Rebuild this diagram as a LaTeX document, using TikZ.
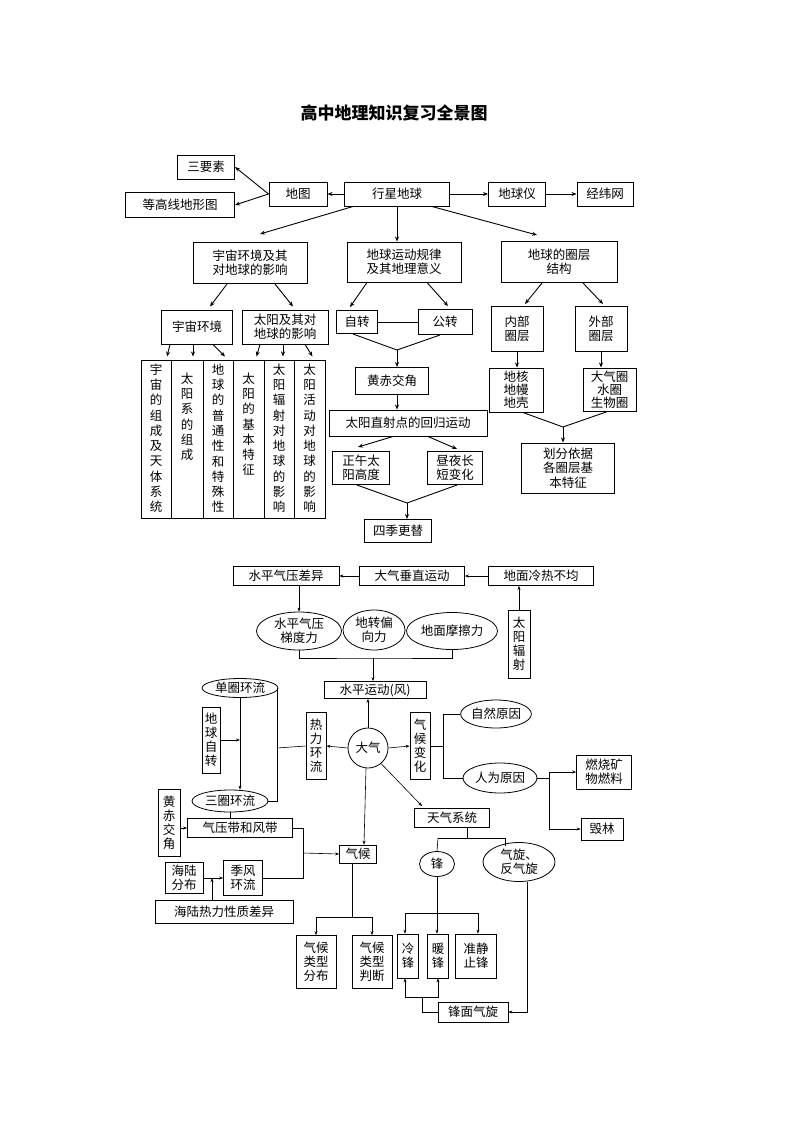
\documentclass[tikz,border=0pt]{standalone}
\usepackage{fontspec}
\newfontfamily\cjk{Noto Sans CJK SC}
\usetikzlibrary{shapes.geometric,calc,arrows.meta}
\begin{document}
\begin{tikzpicture}[x=1pt,y=-1pt,
  every node/.style={font=\cjk\fontsize{12.5}{14}\selectfont,align=center,inner sep=0pt},
  bx/.style={draw,line width=1pt},
  tb/.style={draw,line width=0.7pt},
  el/.style={draw,ellipse,line width=0.8pt},
  arr/.style={-{Stealth[length=5pt,width=4pt]},line width=0.9pt},
  tarr/.style={-{Stealth[length=4pt,width=3pt]},line width=0.6pt},
  ln/.style={line width=0.9pt},
  tln/.style={line width=0.6pt}]
\useasboundingbox (0,0) rectangle (800,1132);
\node[font=\cjk\bfseries\fontsize{17}{20}\selectfont] (title) at (394,113) {高中地理知识复习全景图};
% top
\node[bx,minimum width=57,minimum height=24] (sanyao) at (206,167) {三要素};
\node[bx,minimum width=109,minimum height=25] (dengg) at (180,205) {等高线地形图};
\node[bx,minimum width=58,minimum height=24] (ditu) at (298,194) {地图};
\node[bx,minimum width=105,minimum height=24] (xxdq) at (397,194) {行星地球};
\node[bx,minimum width=57,minimum height=24] (dqy) at (517,194) {地球仪};
\node[bx,minimum width=56,minimum height=24] (jwc) at (605,194) {经纬网};
\node[bx,minimum width=114,minimum height=41] (yz) at (250,263) {宇宙环境及其\\对地球的影响};
\node[bx,minimum width=114,minimum height=40] (ydg) at (404,262) {地球运动规律\\及其地理意义};
\node[bx,minimum width=116,minimum height=41] (qc) at (559,262) {地球的圈层\\结构};
\node[bx,minimum width=71,minimum height=34] (yzhj) at (197,327) {宇宙环境};
\node[bx,minimum width=86,minimum height=34] (tyj) at (285,327) {太阳及其对\\地球的影响};
\foreach \n/\cx/\w in {b1/156/30,b2/187/32,b3/218/30,b4/248.5/31,b5/279/30,b6/309.5/31}
  \node[bx,minimum width=\w,minimum height=158] (\n) at (\cx,439) {};
\begin{scope}[every node/.style={font=\cjk\fontsize{12.5}{15.3}\selectfont,align=center,inner sep=0pt,anchor=north}]
\node (t1) at ($(b1.north)+(0,4)$) {宇\\宙\\的\\组\\成\\及\\天\\体\\系\\统};
\node (t2) at ($(b2.north)+(0,13)$) {太\\阳\\系\\的\\组\\成};
\node (t3) at ($(b3.north)+(0,4)$) {地\\球\\的\\普\\通\\性\\和\\特\\殊\\性};
\node (t4) at ($(b4.north)+(0,13)$) {太\\阳\\的\\基\\本\\特\\征};
\node (t5) at ($(b5.north)+(0,4)$) {太\\阳\\辐\\射\\对\\地\\球\\的\\影\\响};
\node (t6) at ($(b6.north)+(0,4)$) {太\\阳\\活\\动\\对\\地\\球\\的\\影\\响};
\end{scope}
\node[bx,minimum width=41,minimum height=23] (zz) at (357,322) {自转};
\node[bx,minimum width=54,minimum height=25] (gz) at (445,322) {公转};
\node[bx,minimum width=73,minimum height=27] (hcjj) at (392,381) {黄赤交角};
\node[bx,minimum width=158,minimum height=26] (tyzs) at (408,423) {太阳直射点的回归运动};
\node[bx,minimum width=57,minimum height=33] (zw) at (361,468) {正午太\\阳高度};
\node[bx,minimum width=55,minimum height=33] (zy) at (455,468) {昼夜长\\短变化};
\node[bx,minimum width=67,minimum height=23] (sj) at (398,531) {四季更替};
\node[bx,minimum width=52,minimum height=45] (nb) at (517,329) {内部\\圈层};
\node[bx,minimum width=52,minimum height=45] (wb) at (601,329) {外部\\圈层};
\node[bx,minimum width=54,minimum height=44,font=\cjk\fontsize{12.5}{13}\selectfont] (dh) at (516,390) {地核\\地幔\\地壳};
\node[bx,minimum width=53,minimum height=43,font=\cjk\fontsize{12.5}{13}\selectfont] (dq) at (609.5,389.5) {大气圈\\水圈\\生物圈};
\node[bx,minimum width=93,minimum height=50,font=\cjk\fontsize{12.5}{14.5}\selectfont] (hf) at (568,468) {划分依据\\各圈层基\\本特征};
% top connectors
\draw[arr] (ditu.west) -- (sanyao.east);
\draw[arr] (ditu.west) -- (dengg.east);
\draw[arr] (xxdq.west) -- (ditu.east);
\draw[arr] (xxdq.east) -- (dqy.west);
\draw[arr] (dqy.east) -- (jwc.west);
\draw[arr] ($(xxdq.south)+(-44,0)$) -- ($(yz.north)+(10,-8)$);
\draw[arr] (xxdq.south) -- (xxdq.south |- ydg.north);
\draw[arr] ($(xxdq.south)+(35,0)$) -- ($(qc.north)+(-22,-6)$);
\draw[arr] ($(yz.south)+(-23,0)$) -- ($(yzhj.north)+(13,-3)$);
\draw[arr] ($(yz.south)+(25,0)$) -- ($(tyj.north)+(8,-3)$);
\draw[arr] ($(yzhj.south)+(-27,0)$) -- ($(b1.north)+(11,-3)$);
\draw[arr] ($(yzhj.south)+(-4,0)$) -- ($(b2.north)+(6,-3)$);
\draw[arr] ($(yzhj.south)+(16,0)$) -- ($(b3.north)+(7,-3)$);
\draw[arr] ($(tyj.south)+(-25,0)$) -- ($(b4.north)+(8,-3)$);
\draw[arr] ($(tyj.south)+(-2,0)$) -- ($(b5.north)+(4,-3)$);
\draw[arr] ($(tyj.south)+(20,0)$) -- ($(b6.north)+(3,-3)$);
\draw[arr] ($(ydg.south)+(-37,0)$) -- ($(zz.north)+(-7,-3)$);
\draw[arr] ($(ydg.south)+(23,0)$) -- ($(gz.north)+(3,-3)$);
\draw[ln] (zz.east) -- (gz.west);
\coordinate (m1) at (397,350);
\draw[ln] ($(zz.south)+(-4,0)$) -- (m1) -- ($(gz.south)+(-5,0)$);
\draw[arr] (m1) -- (m1 |- hcjj.north);
\draw[arr] (hcjj.south -| m1) -- (tyzs.north -| m1);
\draw[arr] ($(tyzs.south)+(-15,0)$) -- ($(zw.north)+(-3,-4)$);
\draw[arr] ($(tyzs.south)+(20,0)$) -- ($(zy.north)+(2,-2)$);
\coordinate (m2) at (407,503);
\draw[ln] ($(zw.south)+(-4,0)$) -- (m2) -- ($(zy.south)+(2,0)$);
\draw[arr] (m2) -- (m2 |- sj.north);
\draw[arr] ($(qc.south)+(-17,0)$) -- ($(nb.north)+(8,-2)$);
\draw[arr] ($(qc.south)+(24,0)$) -- ($(wb.north)+(2,-2)$);
\draw[arr] (nb.south) -- (nb.south |- dh.north);
\draw[arr] (wb.south) -- (wb.south |- dq.north);
\coordinate (m3) at (563,427);
\draw[ln] ($(dh.south)+(7,0)$) -- (m3) -- ($(dq.south)+(-2,0)$);
\draw[arr] (m3) -- (m3 |- hf.north);
% bottom
\node[tb,minimum width=106,minimum height=19] (spcy) at (286,576) {水平气压差异};
\node[tb,minimum width=105,minimum height=19] (dqcz) at (412,576) {大气垂直运动};
\node[tb,minimum width=105,minimum height=19] (dmlr) at (541,576) {地面冷热不均};
\node[tb,minimum width=22,minimum height=68] (tyfs) at (519,644) {太\\阳\\辐\\射};
\node[el,minimum width=85,minimum height=38] (e1) at (299,631) {水平气压\\梯度力};
\node[el,minimum width=62,minimum height=40] (e2) at (374,630) {地转偏\\向力};
\node[el,minimum width=91,minimum height=37] (e3) at (452,631) {地面摩擦力};
\node[tb,minimum width=102,minimum height=17] (spyd) at (375,690) {水平运动(风)};
\node[draw,circle,line width=0.8pt,minimum size=40] (dqc) at (368,748) {大气};
\node[tb,minimum width=20,minimum height=67] (rlhl) at (316,746) {热\\力\\环\\流};
\node[tb,minimum width=20,minimum height=67] (qhbh) at (420,746) {气\\候\\变\\化};
\node[el,minimum width=65,minimum height=28] (zryy) at (496,714) {自然原因};
\node[el,minimum width=74,minimum height=30] (rwyy) at (500,778) {人为原因};
\node[tb,minimum width=55,minimum height=34] (rs) at (604,772) {燃烧矿\\物燃料};
\node[tb,minimum width=42,minimum height=22] (hl) at (602,829) {毁林};
\node[el,minimum width=76,minimum height=19] (dqhl) at (240,688) {单圈环流};
\node[tb,minimum width=18,minimum height=66] (dqzz) at (211,740) {地\\球\\自\\转};
\node[el,minimum width=76,minimum height=22] (sqhl) at (230,801) {三圈环流};
\node[tb,minimum width=22,minimum height=67] (hcjj2) at (169,823) {黄\\赤\\交\\角};
\node[tb,minimum width=105,minimum height=19] (qyd) at (240,828) {气压带和风带};
\node[tb,minimum width=38,minimum height=31] (hlfb) at (184,878) {海陆\\分布};
\node[tb,minimum width=39,minimum height=35] (jfhl) at (243,878) {季风\\环流};
\node[tb,minimum width=138,minimum height=23] (hlrl) at (224,912) {海陆热力性质差异};
\node[tb,minimum width=37,minimum height=18] (qh) at (358,854) {气候};
\node[tb,minimum width=75,minimum height=19] (tqxt) at (452,818) {天气系统};
\node[el,minimum width=35,minimum height=25] (feng) at (437,864) {锋};
\node[el,minimum width=72,minimum height=39] (qx) at (519,862) {气旋、\\反气旋};
\node[tb,minimum width=40,minimum height=53] (qhfb) at (316,962) {气候\\类型\\分布};
\node[tb,minimum width=40,minimum height=53] (qhpd) at (372,962) {气候\\类型\\判断};
\node[tb,minimum width=21,minimum height=44] (lf) at (408,956) {冷\\锋};
\node[tb,minimum width=21,minimum height=44] (nf) at (438,956) {暖\\锋};
\node[tb,minimum width=41,minimum height=44] (zjz) at (476,956) {准静\\止锋};
\node[tb,minimum width=70,minimum height=20] (fmqx) at (473,1012) {锋面气旋};
% bottom connectors
\draw[tarr] (dqcz.west) -- (spcy.east);
\draw[tarr] (dmlr.west) -- (dqcz.east);
\draw[tarr] (tyfs.north) -- (tyfs.north |- dmlr.south);
\draw[tarr] (spcy.south -| e1.north) -- (e1.north);
\coordinate (br) at (373,658);
\draw[tln] (e1.south) |- (br) -| (e3.south);
\draw[tarr] (br) -- (br |- spyd.north);
\draw[tarr] (dqc.north) -- (dqc.north |- spyd.south);
\draw[tarr] (dqc.west) -- (rlhl.east);
\draw[tarr] (dqc.east) -- (qhbh.west);
\coordinate (qv) at (443,746);
\draw[tln] (qhbh.east) -- (qv);
\draw[tln] (zryy.west) -| (qv);
\draw[tln] (rwyy.west) -| (qv);
\coordinate (rv) at (549,778);
\draw[tln] (rwyy.east) -- (rv);
\draw[tln] (rv) -- (rv |- rs.west);
\draw[tarr] (rv |- rs.west) -- (rs.west);
\draw[tarr] (rv) |- (hl.west);
\draw[tarr] (dqhl.south) -- (sqhl.north -| dqhl.south);
\draw[tarr] (dqzz.east) -- (dqzz.east -| dqhl.south);
\coordinate (bk) at (277,748);
\draw[tln] (dqhl.east) -| (bk);
\draw[tln] (sqhl.east) -| (bk);
\draw[tln] (bk) -- (rlhl.west);
\draw[tln] (sqhl.south) -- (sqhl.south |- qyd.north);
\draw[tarr] (hcjj2.east |- qyd.west) -- (qyd.west);
\coordinate (qj) at (303,853);
\draw[tln] (qyd.east) -| (qj);
\draw[tln] (jfhl.east) -| (qj);
\draw[tarr] (qj) -- (qh.west);
\draw[tarr] (hlfb.east) -- (jfhl.west);
\coordinate (hj) at (212,878);
\draw[tarr] (hlrl.north -| hj) -- (hj);
\draw[tarr] ($(dqc.south)+(-2,0)$) -- ($(qh.north)+(6,0)$);
\draw[tarr] (dqc.-50) -- ($(tqxt.north west)+(8,-2)$);
\coordinate (tl) at (438,838);
\coordinate (tr) at (505,838);
\draw[tln] (tqxt.south -| 467,0) -- (467,838);
\draw[tln] (tl) -- (tr);
\draw[tln] (tl) -- (feng.north);
\draw[tln] (tr) -- ++(0,8);
\draw[tarr] (feng.south) -- (feng.south |- nf.north);
\coordinate (fh) at (438,913);
\draw[tarr] (fh) -| ($(lf.north)+(-3,0)$);
\draw[tarr] (fh) -| ($(zjz.north)+(2,0)$);
\coordinate (qhh) at (352,917);
\draw[tln] (qh.south -| qhh) -- (qhh);
\draw[tarr] (qhh) -| (qhfb.north);
\draw[tarr] (qhh) -| (qhpd.north);
\draw[tarr] ($(qx.south)+(8,0)$) |- (fmqx.east);
\coordinate (fv) at (422,997);
\draw[tln] (fmqx.west) -| (fv);
\draw[tarr] (fv) -| ($(lf.south)+(-3,0)$);
\draw[tarr] (fv) -| (nf.south);
\end{tikzpicture}
\end{document}
